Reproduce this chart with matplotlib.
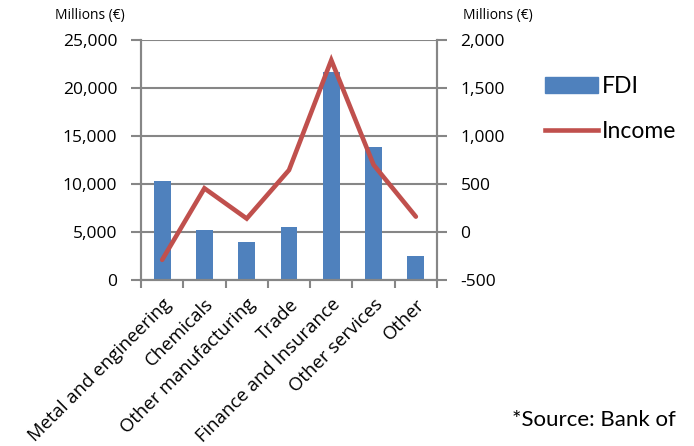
import numpy as np
import matplotlib
matplotlib.use('Agg')
import matplotlib.pyplot as plt
from matplotlib.patches import Patch
from matplotlib.lines import Line2D
from matplotlib.ticker import FuncFormatter

plt.rcParams['font.family'] = ['Open Sans', 'DejaVu Sans']

# data
categories = ['Metal and engineering', 'Chemicals', 'Other manufacturing', 'Trade',
              'Finance and Insurance', 'Other services', 'Other']
fdi = [10300, 5250, 4000, 5550, 21700, 13850, 2550]
income = [-290, 455, 140, 645, 1790, 700, 160]

bar_color = '#4F81BD'
line_color = '#C0504D'
grid_color = '#868686'

fig = plt.figure(figsize=(6.94, 4.46), dpi=100)
ax = fig.add_axes([141/694, 1 - 280/446, 296/694, 240/446])
ax2 = ax.twinx()

x = np.arange(len(categories))
ax.bar(x, fdi, width=0.4, color=bar_color, zorder=2)
ax2.plot(x, income, color=line_color, lw=3.3, solid_capstyle='round',
         solid_joinstyle='miter', zorder=3)

ax.set_xlim(-0.5, len(categories) - 0.5)
ax.set_ylim(0, 25000)
ax2.set_ylim(-500, 2000)
ax.set_yticks(np.arange(0, 25001, 5000))
ax2.set_yticks(np.arange(-500, 2001, 500))
ax.yaxis.set_major_formatter(FuncFormatter(lambda v, p: f'{int(v):,}'))
ax2.yaxis.set_major_formatter(FuncFormatter(lambda v, p: f'{int(v):,}'))

ax.yaxis.grid(True, color=grid_color, lw=1.5, zorder=0)
ax.set_axisbelow(True)

# category ticks at boundaries, labels at centres
ax.set_xticks(np.arange(-0.5, len(categories)), minor=False)
ax.set_xticklabels([])
ax.set_xticks(x, minor=True)
ax.set_xticklabels(categories, minor=True, rotation=45, ha='right',
                   rotation_mode='anchor', fontsize=13.3)
ax.tick_params(axis='x', which='minor', length=0, pad=11)
ax.tick_params(axis='x', which='major', length=6, width=1.5, color=grid_color)
ax.tick_params(axis='y', length=7, width=1.5, color=grid_color, labelsize=12.5, pad=10)
ax2.tick_params(axis='y', length=7, width=1.5, color=grid_color, labelsize=12.5, pad=10)

for a in (ax, ax2):
    a.spines['top'].set_visible(False)
    for s in ('left', 'right', 'bottom'):
        a.spines[s].set_color(grid_color)
        a.spines[s].set_linewidth(1.5)

fig.text(55/694, 1 - 16/446, 'Millions (€)', fontsize=10, va='center', ha='left')
fig.text(463/694, 1 - 16/446, 'Millions (€)', fontsize=10, va='center', ha='left')

handles = [Patch(color=bar_color), Line2D([], [], color=line_color, lw=3.3)]
fig.legend(handles, ['FDI', 'Income'], loc='upper left',
           bbox_to_anchor=(545/694, 1 - 76/446), frameon=False,
           prop={'family': 'Lato', 'size': 16.5},
           handlelength=2.3, handletextpad=0.2, labelspacing=1.05,
           borderpad=0, borderaxespad=0)

fig.text(512/694, 1 - 420/446, '*Source: Bank of', fontsize=16, family='Lato',
         va='center', ha='left')

fig.savefig('out.png', dpi=100)
